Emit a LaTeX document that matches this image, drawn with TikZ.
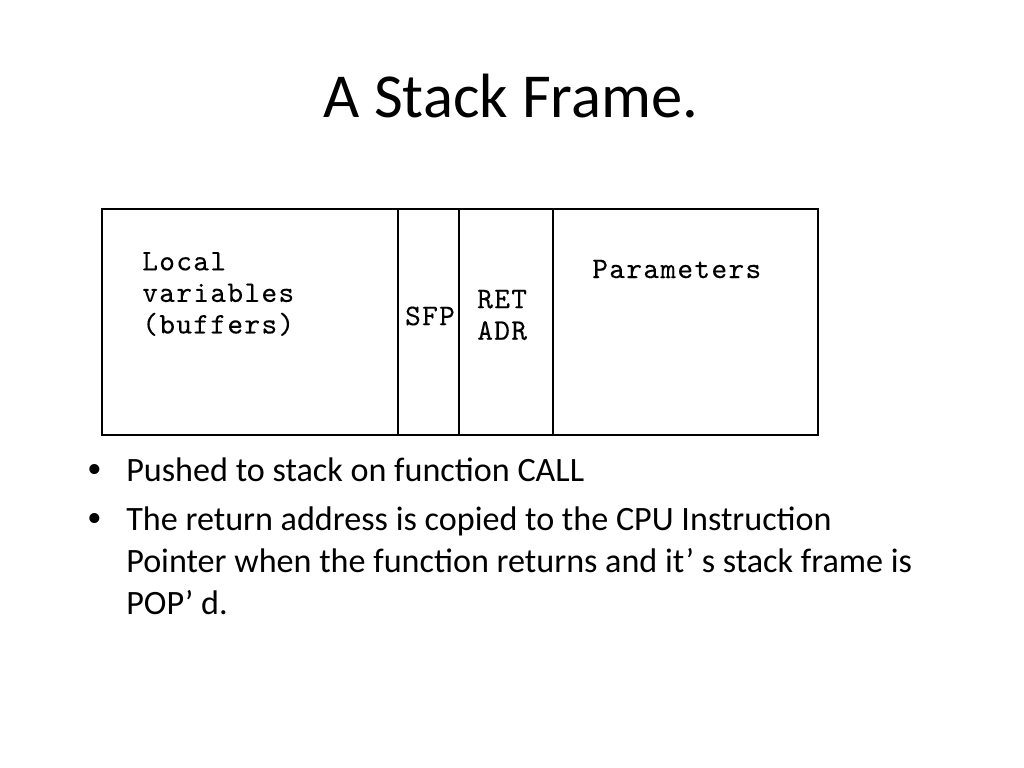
\documentclass[tikz,border=0pt]{standalone}
\usepackage{fontspec}
\setmainfont{Carlito}
\newfontfamily\framefont[Extension=.otf,LetterSpace=4.5,FakeBold=0.2]{lmmono10-regular}
\usetikzlibrary{positioning}

\begin{document}
\begin{tikzpicture}[x=0.703125pt,y=-0.703125pt,
                       cell line/.style={draw=black,line width=1.3pt},
                       cell text/.style={font=\framefont\fontsize{21}{22.2}\selectfont,
                                         align=left,inner sep=0pt},
                       bullet text/.style={font=\fontsize{24}{29.5}\selectfont,
                                           align=left,inner sep=0pt,anchor=base west},
                       bullet dot/.style={font=\fontsize{20}{24}\selectfont,
                                          inner sep=0pt,anchor=base west}
                           ]
   \useasboundingbox (0,0) rectangle (1024,768);
   \node[font=\fontsize{44}{53}\selectfont,inner sep=0pt,anchor=base] (title) at (511,118) {A Stack Frame.};
   % the frame and its cells
   \draw[cell line] (102,209) rectangle (818,435);
   \draw[cell line] (398,209) -- (398,435);
   \draw[cell line] (459,209) -- (459,435);
   \draw[cell line] (553,209) -- (553,435);
   \node[cell text,anchor=west] (locals) at (142,294) {Local\\variables\\(buffers)};
   \node[cell text] (sfp) at (430,316) {SFP};
   \node[cell text,anchor=west] (retadr) at (477,315) {RET\\ADR};
   \node[cell text,anchor=west] (params) at (592,269) {Parameters};
   % bullets (base anchor sits on the last line)
   \node[bullet dot] (dot1) at (87,477) {\textbullet};
   \node[bullet text] (push) at (126,481) {Pushed to stack on function CALL};
   \node[bullet dot] (dot2) at (87,526) {\textbullet};
   \node[bullet text] (ret) at (126,614) {The return address is copied to the CPU Instruction\\
      Pointer when the function returns and it’ s stack frame is\\POP’ d.};
\end{tikzpicture}
\end{document}
